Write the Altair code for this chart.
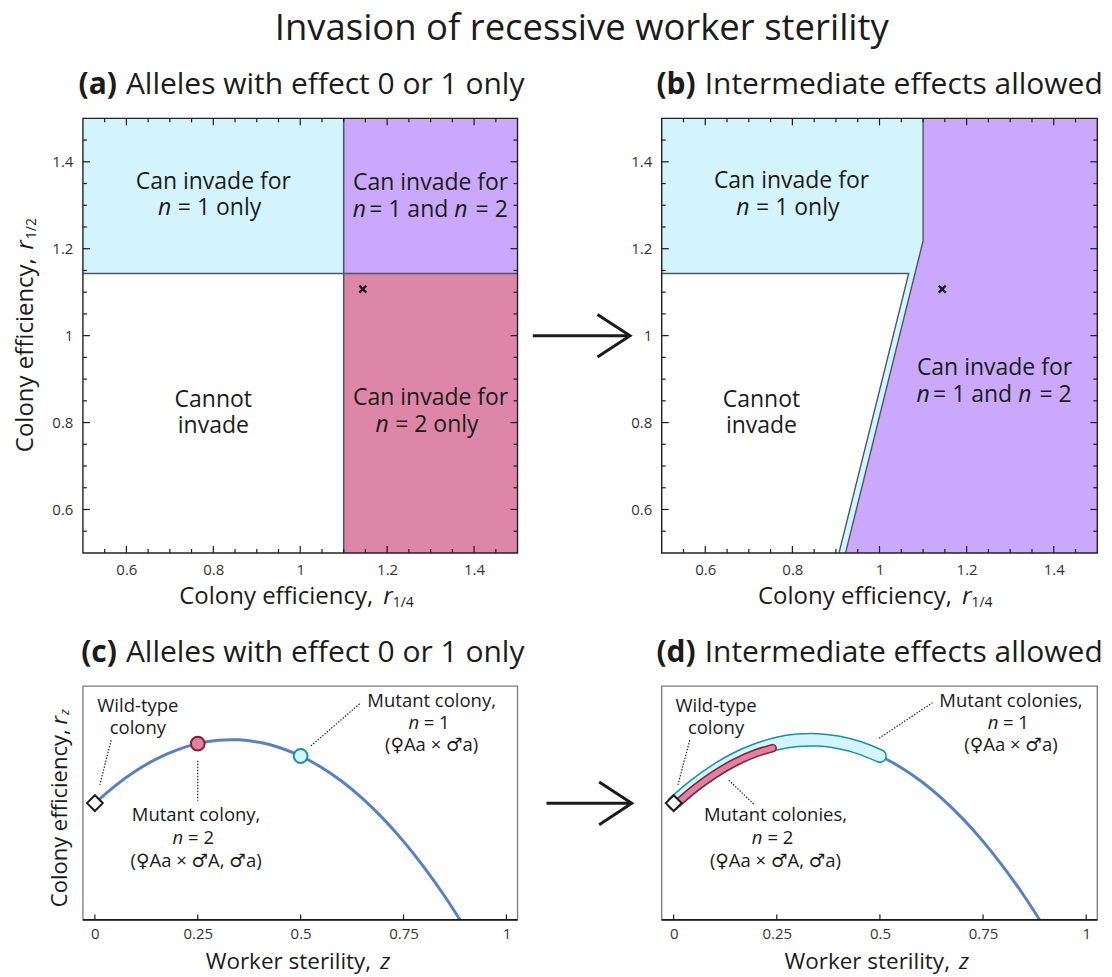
import altair as alt
import pandas as pd

FONT = "Open Sans, DejaVu Sans"
INK = "#1b1b1b"
LABEL_GREY = "#333333"
CYAN = "#d3f4fd"
PURPLE = "#caa8fc"
PINK = "#dd86a7"
EDGE = "#4f5861"
BLUE = "#5a80be"
TEAL = "#1b8ea9"
CYAN_FILL = "#d4f5fc"
RED_EDGE = "#8c1f36"
RED_FILL = "#dc82a3"

# ---------- efficiency space, panels (a) and (b) ----------
R_DOMAIN = [0.5, 1.5]
R_MAJOR = [0.6, 0.8, 1.0, 1.2, 1.4]
R_MINOR = [0.55, 0.65, 0.7, 0.75, 0.85, 0.9, 0.95, 1.05, 1.1, 1.15, 1.25, 1.3, 1.35, 1.45]
R14_THRESHOLD = 1.1      # r_1/4 needed for invasion with n = 2
R12_THRESHOLD = 1.143    # r_1/2 needed for invasion with n = 1
EXAMPLE_R14 = [1.144]
EXAMPLE_R12 = [1.107]
# panel (b) region edges, listed bottom to top
B_WHITE_R12 = [0.5, 1.143]
B_WHITE_R14 = [0.907, 1.067]
B_PURPLE_R12 = [0.5, 1.218, 1.5]
B_PURPLE_R14 = [0.922, 1.1, 1.1]

# ---------- efficiency curve, panels (c) and (d) ----------
Z_DOMAIN = [-0.029, 1.027]
RZ_DOMAIN = [0.7075, 1.293]
Z_TICKS = [0, 0.25, 0.5, 0.75, 1]
CURVE_Z = [0.0, 0.05, 0.1, 0.15, 0.2, 0.25, 0.3, 0.35, 0.4, 0.45, 0.5,
           0.55, 0.6, 0.65, 0.7, 0.75, 0.8, 0.85, 0.9]
CURVE_R = [1.0, 1.044, 1.081, 1.111, 1.1335, 1.149, 1.1573, 1.1584, 1.1522, 1.1387, 1.118,
           1.09, 1.0546, 1.0118, 0.9617, 0.9042, 0.8392, 0.7668, 0.687]
WILD_Z, WILD_R = [0.0], [1.0]
MUT2_Z, MUT2_R = [0.25], [1.149]
MUT1_Z, MUT1_R = [0.5], [1.118]
BAND1_Z, BAND1_R = CURVE_Z[:11], CURVE_R[:11]
BAND2_Z = [0.0, 0.05, 0.1, 0.15, 0.2, 0.24]
BAND2_R = [1.0, 1.044, 1.081, 1.111, 1.1335, 1.146]

W_L, W_R = 435, 436
H_TOP, H_BOT = 435, 234

ONE = alt.Data(values=[{"k": 0}])
CROSS = "M-1,-1L1,1M-1,1L1,-1"
CHEVRON = "M-1,-0.655L0,0L-1,0.655"

R_SCALE = alt.Scale(domain=R_DOMAIN, nice=False, zero=False)
Z_SCALE = alt.Scale(domain=Z_DOMAIN, nice=False, zero=False)
RZ_SCALE = alt.Scale(domain=RZ_DOMAIN, nice=False, zero=False)


def axis(values, pad, fmt):
    return alt.Axis(values=values, format=fmt, ticks=False, domain=False, grid=False,
                    title=None, labelFont=FONT, labelFontSize=15,
                    labelColor=LABEL_GREY, labelPadding=pad)


R_AX_X = axis(R_MAJOR, 10, ".1~f")
R_AX_Y = axis(R_MAJOR, 10, ".1~f")
Z_AX_X = axis(Z_TICKS, 7, ".2~f")


def r_x(f):
    return alt.X(f"{f}:Q", scale=R_SCALE, axis=R_AX_X)


def r_y(f):
    return alt.Y(f"{f}:Q", scale=R_SCALE, axis=R_AX_Y)


def z_x(f):
    return alt.X(f"{f}:Q", scale=Z_SCALE, axis=Z_AX_X)


def z_y(f):
    return alt.Y(f"{f}:Q", scale=RZ_SCALE, axis=None)


def ptext(text, x, y, size, align="center", baseline="middle", angle=0,
          style="normal", weight="normal", color=INK):
    kw = dict(text=text, font=FONT, fontSize=size, align=align, baseline=baseline,
              fontStyle=style, fontWeight=weight, color=color)
    if angle:
        kw["angle"] = angle
    return alt.Chart(ONE).mark_text(**kw).encode(x=alt.value(x), y=alt.value(y))


def dtext(text, x, y, xf, yf, size, dx=0, align="center", style="normal"):
    df = pd.DataFrame({"x": [x], "y": [y]})
    return alt.Chart(df).mark_text(
        text=text, dx=dx, align=align, baseline="middle", font=FONT,
        fontSize=size, fontStyle=style, color=INK
    ).encode(x=xf("x"), y=yf("y"))


def n_line(rest, x, y, xf, yf, size, n_right, rest_left):
    # italic "n" followed by the upright remainder of the line
    return [dtext("n", x, y, xf, yf, size, dx=n_right, align="right", style="italic"),
            dtext(rest, x, y, xf, yf, size, dx=rest_left, align="left")]


def both_n_line(x, y):
    # "n = 1 and n = 2" with both n in italics
    return [dtext("n", x, y, r_x, r_y, 23, dx=-78, align="left", style="italic"),
            dtext("= 1 and", x, y, r_x, r_y, 23, dx=-61.5, align="left"),
            dtext("n", x, y, r_x, r_y, 23, dx=37, align="right", style="italic"),
            dtext("= 2", x, y, r_x, r_y, 23, dx=77.3, align="right")]


def r_ticks(w, h):
    layers = []
    for vals, ln in ((R_MAJOR, 7), (R_MINOR, 4)):
        base = alt.Chart(pd.DataFrame({"v": vals}))
        common = dict(size=ln, thickness=1.2, color=INK, opacity=1)
        layers += [
            base.mark_tick(orient="vertical", yOffset=-ln / 2, **common).encode(x=r_x("v"), y=alt.value(h)),
            base.mark_tick(orient="vertical", yOffset=ln / 2, **common).encode(x=r_x("v"), y=alt.value(0)),
            base.mark_tick(orient="horizontal", xOffset=ln / 2, **common).encode(y=r_y("v"), x=alt.value(0)),
            base.mark_tick(orient="horizontal", xOffset=-ln / 2, **common).encode(y=r_y("v"), x=alt.value(w)),
        ]
    return layers


def frame(w, h, color, sw):
    return alt.Chart(ONE).mark_rect(fillOpacity=0, stroke=color, strokeWidth=sw).encode(
        x=alt.value(0), x2=alt.value(w), y=alt.value(0), y2=alt.value(h))


def panel_title(tag, text, y):
    return [ptext(tag, 34, y, 30, align="right", baseline="alphabetic", weight="bold"),
            ptext(text, 43, y, 30, align="left", baseline="alphabetic")]


def r_axis_title_x(h):
    y = h + 44
    return [ptext("Colony efficiency,", 290.5, y, 24, align="right"),
            ptext("r", 300.5, y, 24, align="left", style="italic"),
            ptext("1/4", 310, y + 6, 14, align="left")]


def z_axis_title_x(h):
    y = h + 42
    return [ptext("Worker sterility,", 288.5, y, 22.5, align="right"),
            ptext("z", 297.5, y, 22.5, align="left", style="italic")]


def anchor(x, y):
    # invisible white pixel pinning the page extent
    return alt.Chart(ONE).mark_rule(color="white", strokeWidth=1).encode(
        x=alt.value(x), x2=alt.value(x + 1), y=alt.value(y))


def arrow(x0, tip, y):
    shaft = alt.Chart(ONE).mark_rule(color=INK, strokeWidth=3).encode(
        x=alt.value(x0), x2=alt.value(tip - 1), y=alt.value(y))
    head = alt.Chart(ONE).mark_point(
        shape=CHEVRON, size=4251, filled=False, color=INK, strokeWidth=3,
        strokeJoin="miter", opacity=1
    ).encode(x=alt.value(tip), y=alt.value(y))
    return [shaft, head]


def example_cross():
    df = pd.DataFrame({"x": EXAMPLE_R14, "y": EXAMPLE_R12})
    return alt.Chart(df).mark_point(shape=CROSS, size=49, filled=False, color=INK,
                                    strokeWidth=2.3, opacity=1).encode(x=r_x("x"), y=r_y("y"))


# ---------------- (a) ----------------
regions_a = pd.DataFrame({
    "x": [R_DOMAIN[0], R14_THRESHOLD, R14_THRESHOLD],
    "x2": [R14_THRESHOLD, R_DOMAIN[1], R_DOMAIN[1]],
    "y": [R12_THRESHOLD, R12_THRESHOLD, R_DOMAIN[0]],
    "y2": [R_DOMAIN[1], R_DOMAIN[1], R12_THRESHOLD],
    "fill": [CYAN, PURPLE, PINK],
})
edges_a = pd.DataFrame({
    "x": [R_DOMAIN[0], R14_THRESHOLD], "x2": [R_DOMAIN[1], R14_THRESHOLD],
    "y": [R12_THRESHOLD, R_DOMAIN[0]], "y2": [R12_THRESHOLD, R_DOMAIN[1]],
})
layers_a = [
    alt.Chart(regions_a).mark_rect().encode(
        x=r_x("x"), x2="x2", y=r_y("y"), y2="y2", fill=alt.Fill("fill:N", scale=None)),
    alt.Chart(edges_a).mark_rule(color=EDGE, strokeWidth=1.5).encode(
        x=r_x("x"), x2="x2", y=r_y("y"), y2="y2"),
    example_cross(),
    dtext("Can invade for", 0.8, 1.3545, r_x, r_y, 23),
    *n_line("= 1 only", 0.8, 1.293, r_x, r_y, 23, -42, -35.5),
    dtext("Can invade for", 1.3, 1.3506, r_x, r_y, 23),
    *both_n_line(1.3, 1.2894),
    dtext("Cannot", 0.8, 0.851, r_x, r_y, 23),
    dtext("invade", 0.8, 0.7912, r_x, r_y, 23),
    dtext("Can invade for", 1.3, 0.8563, r_x, r_y, 23),
    *n_line("= 2 only", 1.3, 0.7952, r_x, r_y, 23, -42, -35.5),
    *r_ticks(W_L, H_TOP),
    frame(W_L, H_TOP, "#222222", 1.4),
    *r_axis_title_x(H_TOP),
    ptext("Colony efficiency,", -56.7, 140, 24, align="right", angle=270),
    ptext("r", -56.7, 131.6, 24, align="left", angle=270, style="italic"),
    ptext("1/2", -50.7, 121, 14, align="left", angle=270),
    *panel_title("(a)", "Alleles with effect 0 or 1 only", -24),
    ptext("Invasion of recessive worker sterility", 499.3, -78.5, 36.5, baseline="alphabetic"),
    anchor(-81.2, -116.2),
]
panel_a = alt.layer(*layers_a).properties(width=W_L, height=H_TOP)

# ---------------- (b) ----------------
white_b = pd.DataFrame({"r12": B_WHITE_R12, "left": [R_DOMAIN[0]] * 2, "right": B_WHITE_R14})
purple_b = pd.DataFrame({"r12": B_PURPLE_R12, "left": B_PURPLE_R14, "right": [R_DOMAIN[1]] * 3})
edges_b = pd.DataFrame({
    "r14": [R_DOMAIN[0], B_WHITE_R14[1], B_WHITE_R14[0]] + B_PURPLE_R14[::-1],
    "r12": [B_WHITE_R12[1], B_WHITE_R12[1], B_WHITE_R12[0]] + B_PURPLE_R12[::-1],
    "seg": [0, 0, 0, 1, 1, 1],
    "i": [0, 1, 2, 0, 1, 2],
})
full_b = pd.DataFrame({"x": [R_DOMAIN[0]], "x2": [R_DOMAIN[1]], "y": [R_DOMAIN[0]], "y2": [R_DOMAIN[1]]})
layers_b = [
    alt.Chart(full_b).mark_rect(color=CYAN).encode(x=r_x("x"), x2="x2", y=r_y("y"), y2="y2"),
    alt.Chart(white_b).mark_area(orient="horizontal", color="white", opacity=1).encode(
        y=r_y("r12"), x=r_x("left"), x2="right"),
    alt.Chart(purple_b).mark_area(orient="horizontal", color=PURPLE, opacity=1).encode(
        y=r_y("r12"), x=r_x("left"), x2="right"),
    alt.Chart(edges_b).mark_line(color=EDGE, strokeWidth=1.4).encode(
        x=r_x("r14"), y=r_y("r12"), detail="seg:N", order="i:Q"),
    example_cross(),
    dtext("Can invade for", 0.798, 1.356, r_x, r_y, 23),
    *n_line("= 1 only", 0.798, 1.293, r_x, r_y, 23, -42, -35.5),
    dtext("Cannot", 0.729, 0.8527, r_x, r_y, 23),
    dtext("invade", 0.729, 0.7913, r_x, r_y, 23),
    dtext("Can invade for", 1.264, 0.9253, r_x, r_y, 23),
    *both_n_line(1.264, 0.8641),
    *r_ticks(W_R, H_TOP),
    frame(W_R, H_TOP, "#222222", 1.4),
    *r_axis_title_x(H_TOP),
    *panel_title("(b)", "Intermediate effects allowed", -24),
    *arrow(-129, -31.7, 217.6),
]
panel_b = alt.layer(*layers_b).properties(width=W_R, height=H_TOP)


# ---------------- (c) and (d) ----------------
def leaders(segs):
    rows = []
    for k, seg in enumerate(segs):
        for i, (z, r) in enumerate(seg):
            rows.append({"z": z, "r": r, "seg": k, "i": i})
    return alt.Chart(pd.DataFrame(rows)).mark_line(
        color=INK, strokeWidth=1.2, strokeDash=[1.4, 1.6]
    ).encode(x=z_x("z"), y=z_y("r"), detail="seg:N", order="i:Q")


def curve_layer():
    df = pd.DataFrame({"z": CURVE_Z, "r": CURVE_R})
    return alt.Chart(df).mark_line(color=BLUE, strokeWidth=3, interpolate="natural",
                                   clip=True).encode(x=z_x("z"), y=z_y("r"))


def wild_point():
    df = pd.DataFrame({"z": WILD_Z, "r": WILD_R})
    return alt.Chart(df).mark_point(shape="diamond", size=250, filled=True, fill="white",
                                    stroke=INK, strokeWidth=2, opacity=1).encode(
        x=z_x("z"), y=z_y("r"))


def z_frame(w, h):
    ticks = alt.Chart(pd.DataFrame({"v": Z_TICKS})).mark_tick(
        orient="vertical", size=5.5, thickness=1.2, color=INK, opacity=1, yOffset=-2.75
    ).encode(x=z_x("v"), y=alt.value(h))
    bottom = alt.Chart(ONE).mark_rule(color=INK, strokeWidth=1.8).encode(
        x=alt.value(0), x2=alt.value(w), y=alt.value(h))
    return [frame(w, h, "#7a7a7a", 1.3), bottom, ticks]


def mutant_text(first, cross_text, zc, rows, n_digit, n_right, rest_left):
    r1, r2, r3 = rows
    return [dtext(first, zc, r1, z_x, z_y, 18.5),
            *n_line(f"= {n_digit}", zc, r2, z_x, z_y, 18.5, n_right, rest_left),
            dtext(cross_text, zc, r3, z_x, z_y, 18.5)]


layers_c = [
    curve_layer(),
    leaders([[(0.0396, 1.1575), (0.0121, 1.0458)],
             [(0.25, 1.1058), (0.25, 1.0058)],
             [(0.525, 1.1433), (0.6464, 1.2515)]]),
    alt.Chart(pd.DataFrame({"z": MUT2_Z, "r": MUT2_R})).mark_point(
        shape="circle", size=190, filled=True, fill=RED_FILL, stroke=RED_EDGE,
        strokeWidth=2, opacity=1).encode(x=z_x("z"), y=z_y("r")),
    alt.Chart(pd.DataFrame({"z": MUT1_Z, "r": MUT1_R})).mark_point(
        shape="circle", size=190, filled=True, fill=CYAN_FILL, stroke=TEAL,
        strokeWidth=2, opacity=1).encode(x=z_x("z"), y=z_y("r")),
    wild_point(),
    dtext("Wild-type", 0.1044, 1.2433, z_x, z_y, 18.5),
    dtext("colony", 0.1044, 1.1875, z_x, z_y, 18.5),
    *mutant_text("Mutant colony,", "(♀Aa × ♂A, ♂a)", 0.2459, (0.97, 0.9115, 0.8558), 2, -13, -8),
    *mutant_text("Mutant colony,", "(♀Aa × ♂a)", 0.8183, (1.2558, 1.2015, 1.1458), 1, -12.5, -8),
    *z_frame(W_L, H_BOT),
    *z_axis_title_x(H_BOT),
    ptext("Colony efficiency,", -23.4, 43.3, 22, align="right", angle=270),
    ptext("r", -23.4, 38.3, 22, align="left", angle=270, style="italic"),
    ptext("z", -17.8, 29, 13, align="left", angle=270, style="italic"),
    *panel_title("(c)", "Alleles with effect 0 or 1 only", -24),
]
panel_c = alt.layer(*layers_c).properties(width=W_L, height=H_BOT)

band1 = pd.DataFrame({"z": BAND1_Z, "r": BAND1_R})
band2 = pd.DataFrame({"z": BAND2_Z, "r": BAND2_R})
layers_d = [
    curve_layer(),
    alt.Chart(band1).mark_line(color=TEAL, strokeWidth=14, strokeCap="round",
                               interpolate="natural").encode(x=z_x("z"), y=z_y("r")),
    alt.Chart(band1).mark_line(color=CYAN_FILL, strokeWidth=11, strokeCap="round",
                               interpolate="natural").encode(x=z_x("z"), y=z_y("r")),
    alt.Chart(band2).mark_line(color=RED_EDGE, strokeWidth=8.5, strokeCap="round",
                               interpolate="natural", yOffset=3.3).encode(x=z_x("z"), y=z_y("r")),
    alt.Chart(band2).mark_line(color=RED_FILL, strokeWidth=5.5, strokeCap="round",
                               interpolate="natural", yOffset=3.3).encode(x=z_x("z"), y=z_y("r")),
    leaders([[(0.0389, 1.1575), (0.0104, 1.0458)],
             [(0.1336, 1.0575), (0.1967, 0.995)],
             [(0.498, 1.1625), (0.6274, 1.2515)]]),
    wild_point(),
    dtext("Wild-type", 0.1027, 1.2433, z_x, z_y, 18.5),
    dtext("colony", 0.1027, 1.1875, z_x, z_y, 18.5),
    *mutant_text("Mutant colonies,", "(♀Aa × ♂A, ♂a)", 0.2468, (0.97, 0.9115, 0.8558), 2, -13, -8),
    *mutant_text("Mutant colonies,", "(♀Aa × ♂a)", 0.8176, (1.2558, 1.2015, 1.1458), 1, -12.5, -8),
    *z_frame(W_R, H_BOT),
    *z_axis_title_x(H_BOT),
    *panel_title("(d)", "Intermediate effects allowed", -24),
    *arrow(-115.3, -30, 117.3),
    anchor(448, 291),
]
panel_d = alt.layer(*layers_d).properties(width=W_R, height=H_BOT)

chart = alt.concat(
    panel_a, panel_b, panel_c, panel_d,
    columns=2,
    spacing={"row": 133.3, "column": 144.3},
    bounds="flush",
).properties(padding=0).configure_view(stroke="transparent")

chart.save("out.html", embed_options={"renderer": "svg", "actions": False})
